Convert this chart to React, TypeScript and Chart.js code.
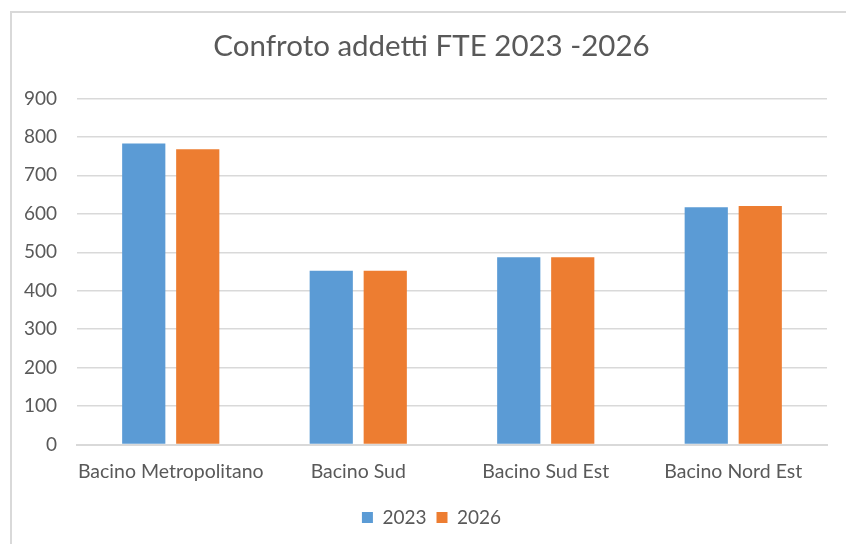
import React, { useEffect, useRef } from "react";
import { Chart, registerables } from "chart.js";

Chart.register(...registerables);

const categories = ["Bacino Metropolitano", "Bacino Sud", "Bacino Sud Est", "Bacino Nord Est"];
const series2023 = [783, 452, 487, 617];
const series2026 = [768, 452, 487, 620];
const seriesLabels = ["2023", "2026"];
const yTicksMax = 900;
const yTickStep = 100;

const TEXT = "#595959";
const GRID = "#D9D9D9";
const FONT = "Lato, 'Open Sans', sans-serif";

export default function App() {
  const ref = useRef<HTMLCanvasElement | null>(null);

  useEffect(() => {
    document.body.style.margin = "0";
    document.body.style.overflow = "hidden";
    const ctx = ref.current!;
    const chart = new Chart(ctx, {
      type: "bar",
      data: {
        labels: categories,
        datasets: [
          {
            label: seriesLabels[0],
            data: series2023,
            backgroundColor: "#5B9BD5",
            categoryPercentage: 0.576,
            barPercentage: 0.8,
          },
          {
            label: seriesLabels[1],
            data: series2026,
            backgroundColor: "#ED7D31",
            categoryPercentage: 0.576,
            barPercentage: 0.8,
          },
        ],
      },
      options: {
        animation: false,
        responsive: false,
        maintainAspectRatio: false,
        layout: { padding: { left: 36, right: 19, top: 29, bottom: 7 } },
        plugins: {
          title: {
            display: true,
            text: "Confroto addetti FTE 2023 -2026",
            color: TEXT,
            font: { family: FONT, size: 29.5, weight: "normal" },
            padding: { top: 0, bottom: 34 },
          },
          legend: {
            display: true,
            position: "bottom",
            labels: {
              color: TEXT,
              boxWidth: 11,
              boxHeight: 11,
              padding: 10,
              font: { family: FONT, size: 19 },
            },
          },
          tooltip: { enabled: false },
        },
        scales: {
          x: {
            grid: { display: false, drawTicks: false },
            border: { display: true, color: GRID, width: 2 },
            ticks: {
              color: TEXT,
              padding: 15,
              maxRotation: 0,
              minRotation: 0,
              autoSkip: false,
              font: { family: FONT, size: 19.5 },
            },
          },
          y: {
            min: 0,
            max: yTicksMax,
            grid: { color: GRID, lineWidth: 1.5, drawTicks: false },
            border: { display: false },
            ticks: {
              stepSize: yTickStep,
              color: TEXT,
              padding: 20,
              font: { family: FONT, size: 19 },
            },
            afterFit: (scale: any) => {
              scale.width = 41;
              scale._computeLabelArea = () => undefined;
            },
          },
        },
      },
    });
    return () => chart.destroy();
  }, []);

  return (
    <div style={{ position: "fixed", left: 0, top: 0, width: 846, height: 544, background: "#fff" }}>
      <canvas ref={ref} width={846} height={544} style={{ position: "absolute", left: 0, top: 0 }} />
      <div
        style={{
          position: "absolute",
          left: 10,
          top: 11,
          width: 900,
          height: 600,
          border: `2px solid ${GRID}`,
          pointerEvents: "none",
        }}
      />
    </div>
  );
}
